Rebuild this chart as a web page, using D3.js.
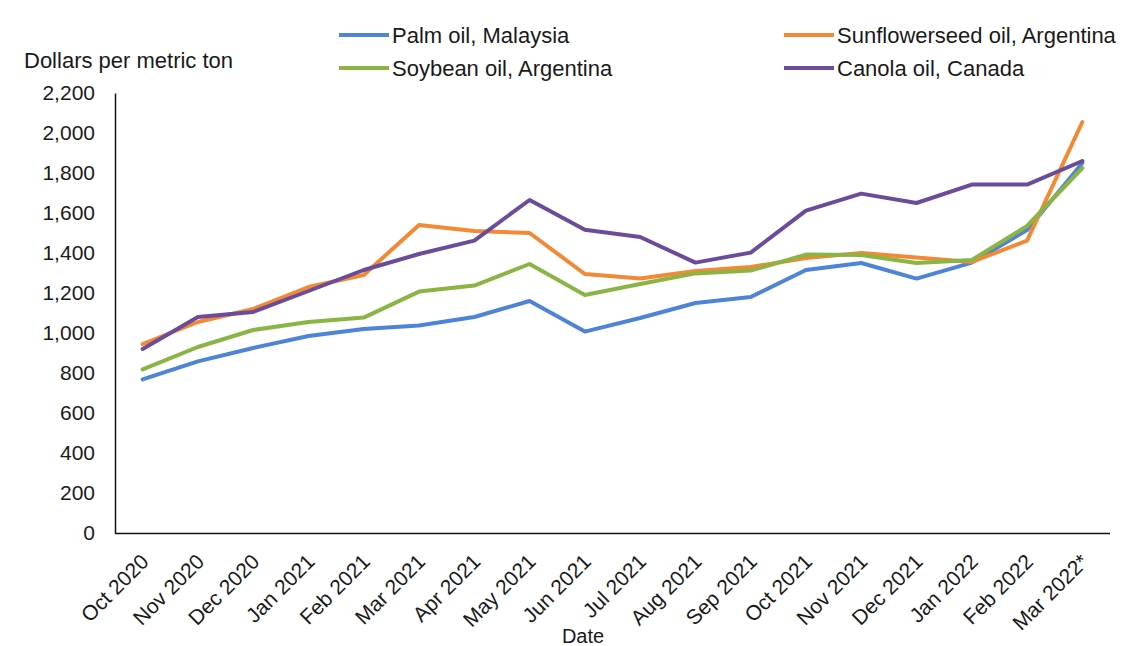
<!DOCTYPE html>
<html>
<head>
<meta charset="utf-8">
<script src="https://cdn.jsdelivr.net/npm/d3@7"></script>
<style>
  html, body { margin: 0; padding: 0; background: #ffffff; }
  svg { display: block; }
  text { font-family: "Liberation Sans", Arial, sans-serif; fill: #1a1a1a; }
</style>
</head>
<body>
<svg id="chart" width="1125" height="646"></svg>
<script>
const months = ["Oct 2020","Nov 2020","Dec 2020","Jan 2021","Feb 2021","Mar 2021","Apr 2021","May 2021","Jun 2021","Jul 2021","Aug 2021","Sep 2021","Oct 2021","Nov 2021","Dec 2021","Jan 2022","Feb 2022","Mar 2022*"];
const seriesNames = ["Palm oil, Malaysia","Sunflowerseed oil, Argentina","Soybean oil, Argentina","Canola oil, Canada"];
const palm      = [768, 858, 925, 985, 1020, 1037, 1080, 1160, 1007, 1075, 1150, 1180, 1315, 1350, 1272, 1352, 1515, 1850];
const sunflower = [945, 1055, 1120, 1230, 1290, 1540, 1510, 1500, 1295, 1272, 1310, 1330, 1375, 1400, 1378, 1355, 1462, 2055];
const soybean   = [818, 930, 1015, 1055, 1077, 1207, 1237, 1345, 1190, 1245, 1298, 1312, 1392, 1390, 1350, 1365, 1535, 1825];
const canola    = [920, 1080, 1105, 1210, 1315, 1395, 1462, 1665, 1516, 1480, 1352, 1402, 1612, 1697, 1650, 1742, 1742, 1860];
const yTicks = [0, 200, 400, 600, 800, 1000, 1200, 1400, 1600, 1800, 2000, 2200];
const colors = ["#4d84d6", "#f28a35", "#8ab443", "#6b4c9a"];

const series = [
  {name: seriesNames[0], values: palm, color: colors[0]},
  {name: seriesNames[1], values: sunflower, color: colors[1]},
  {name: seriesNames[2], values: soybean, color: colors[2]},
  {name: seriesNames[3], values: canola, color: colors[3]}
];

const svg = d3.select("#chart");
const mLeft = 115, mRight = 1110, mTop = 93, mBottom = 533;

const x = d3.scalePoint().domain(months).range([mLeft, mRight]).padding(0.5);
const y = d3.scaleLinear().domain([0, 2200]).range([mBottom, mTop]);

// Y axis
const yAxis = svg.append("g").attr("transform", `translate(${mLeft},0)`)
  .call(d3.axisLeft(y).tickValues(yTicks).tickSize(0).tickPadding(20).tickFormat(d3.format(",")));
yAxis.select(".domain").attr("stroke", "#111").attr("stroke-width", 1.5);
yAxis.selectAll("text").attr("font-size", 21).style("font-family", "Liberation Sans, Arial, sans-serif").attr("fill", "#1a1a1a");

// X axis
const xAxis = svg.append("g").attr("transform", `translate(0,${mBottom})`)
  .call(d3.axisBottom(x).tickSize(0).tickSizeOuter(0));
xAxis.select(".domain").attr("stroke", "#111").attr("stroke-width", 1.5)
  .attr("d", `M${mLeft},0.5H${mRight}`);
xAxis.selectAll("text")
  .attr("font-size", 21)
  .style("font-family", "Liberation Sans, Arial, sans-serif")
  .attr("fill", "#1a1a1a")
  .attr("text-anchor", "end")
  .attr("dy", null)
  .attr("y", 0)
  .attr("transform", "translate(7,30) rotate(-45)");

// Lines
const line = d3.line().x((d, i) => x(months[i])).y(d => y(d));
svg.append("g").selectAll("path").data(series).join("path")
  .attr("fill", "none")
  .attr("stroke", d => d.color)
  .attr("stroke-width", 4)
  .attr("stroke-linejoin", "round")
  .attr("stroke-linecap", "round")
  .attr("d", d => line(d.values));

// Axis titles
svg.append("text").attr("x", 24).attr("y", 68).attr("font-size", 22).text("Dollars per metric ton");
svg.append("text").attr("x", 583).attr("y", 643).attr("text-anchor", "middle").attr("font-size", 20).text("Date");

// Legend
const legendPos = [
  {lx: 339, ly: 35}, {lx: 784, ly: 35},
  {lx: 339, ly: 68}, {lx: 784, ly: 68}
];
const lg = svg.append("g").selectAll("g").data(series).join("g")
  .attr("transform", (d, i) => `translate(${legendPos[i].lx},${legendPos[i].ly})`);
lg.append("line").attr("x1", 0).attr("x2", 50).attr("y1", 0).attr("y2", 0)
  .attr("stroke", d => d.color).attr("stroke-width", 4);
lg.append("text").attr("x", 53).attr("y", 0).attr("dy", "0.35em").attr("font-size", 22).text(d => d.name);
</script>
</body>
</html>
